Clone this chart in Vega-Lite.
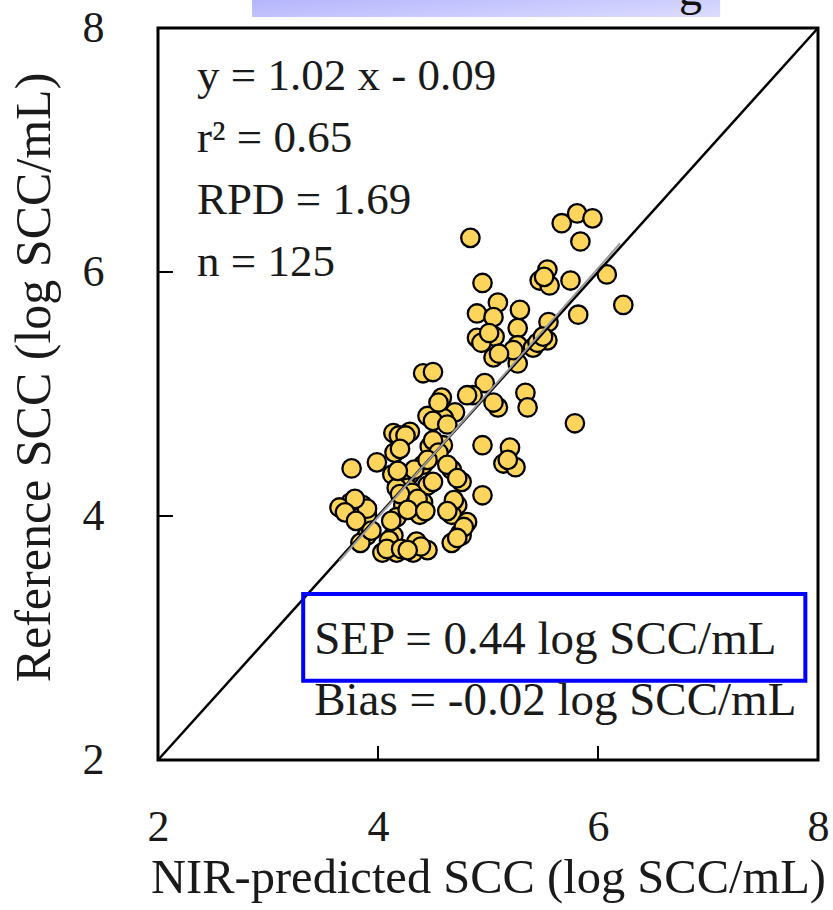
{
  "$schema": "https://vega.github.io/schema/vega-lite/v6.json",
  "autosize": "none",
  "width": 660,
  "height": 732,
  "padding": {"left": 158, "top": 28, "right": 15, "bottom": 150},
  "background": "white",
  "config": {
    "view": {"stroke": "black", "strokeWidth": 3},
    "font": "Liberation Serif",
    "axis": {
      "grid": false,
      "domain": false,
      "ticks": false,
      "labelFlush": false,
      "labelFont": "Liberation Serif",
      "labelFontSize": 44,
      "labelColor": "#1a1a1a",
      "titleFont": "Liberation Serif",
      "titleFontWeight": "normal",
      "titleColor": "#1a1a1a"
    }
  },
  "datasets": {
    "pts": [
      {"pred": 4.84, "ref": 6.28}, {"pred": 5.67, "ref": 6.40}, {"pred": 5.81, "ref": 6.48}, {"pred": 5.95, "ref": 6.44},
      {"pred": 5.84, "ref": 6.25}, {"pred": 5.54, "ref": 6.02}, {"pred": 5.47, "ref": 5.93}, {"pred": 5.56, "ref": 5.89},
      {"pred": 5.75, "ref": 5.93}, {"pred": 6.08, "ref": 5.98}, {"pred": 6.23, "ref": 5.73}, {"pred": 4.95, "ref": 5.91},
      {"pred": 5.09, "ref": 5.75}, {"pred": 5.29, "ref": 5.69}, {"pred": 4.90, "ref": 5.66}, {"pred": 5.05, "ref": 5.63},
      {"pred": 5.82, "ref": 5.65}, {"pred": 5.55, "ref": 5.59}, {"pred": 5.27, "ref": 5.54}, {"pred": 4.90, "ref": 5.46},
      {"pred": 5.06, "ref": 5.47}, {"pred": 5.27, "ref": 5.40}, {"pred": 5.41, "ref": 5.38}, {"pred": 5.54, "ref": 5.44},
      {"pred": 5.05, "ref": 5.30}, {"pred": 5.27, "ref": 5.25}, {"pred": 4.41, "ref": 5.17}, {"pred": 4.50, "ref": 5.18},
      {"pred": 4.97, "ref": 5.09}, {"pred": 4.86, "ref": 4.99}, {"pred": 5.09, "ref": 4.89}, {"pred": 5.34, "ref": 5.01},
      {"pred": 5.36, "ref": 4.89}, {"pred": 5.79, "ref": 4.76}, {"pred": 4.95, "ref": 4.58}, {"pred": 5.20, "ref": 4.56},
      {"pred": 5.14, "ref": 4.43}, {"pred": 5.25, "ref": 4.40}, {"pred": 4.95, "ref": 4.17}, {"pred": 4.58, "ref": 4.97},
      {"pred": 4.81, "ref": 4.99}, {"pred": 4.70, "ref": 4.85}, {"pred": 4.45, "ref": 4.82}, {"pred": 4.60, "ref": 4.80},
      {"pred": 4.14, "ref": 4.68}, {"pred": 4.29, "ref": 4.69}, {"pred": 4.15, "ref": 4.52}, {"pred": 3.99, "ref": 4.44},
      {"pred": 3.76, "ref": 4.39}, {"pred": 4.47, "ref": 4.57}, {"pred": 4.59, "ref": 4.58}, {"pred": 4.29, "ref": 4.34},
      {"pred": 4.13, "ref": 4.34}, {"pred": 4.67, "ref": 4.38}, {"pred": 4.76, "ref": 4.28}, {"pred": 4.45, "ref": 4.25},
      {"pred": 4.27, "ref": 4.23}, {"pred": 4.17, "ref": 4.23}, {"pred": 4.41, "ref": 4.11}, {"pred": 4.23, "ref": 4.09},
      {"pred": 4.72, "ref": 4.09}, {"pred": 4.67, "ref": 4.01}, {"pred": 4.81, "ref": 3.95}, {"pred": 4.75, "ref": 3.86},
      {"pred": 3.75, "ref": 4.11}, {"pred": 3.65, "ref": 4.07}, {"pred": 3.86, "ref": 4.09}, {"pred": 3.84, "ref": 3.99},
      {"pred": 4.17, "ref": 3.99}, {"pred": 4.38, "ref": 4.01}, {"pred": 3.90, "ref": 3.84}, {"pred": 3.84, "ref": 3.78},
      {"pred": 4.14, "ref": 3.84}, {"pred": 4.35, "ref": 3.79}, {"pred": 4.04, "ref": 3.70}, {"pred": 4.17, "ref": 3.70},
      {"pred": 4.32, "ref": 3.70}, {"pred": 4.45, "ref": 3.72}, {"pred": 4.76, "ref": 3.84}, {"pred": 4.67, "ref": 3.78},
      {"pred": 4.41, "ref": 4.42}, {"pred": 3.90, "ref": 4.01},
      {"pred": 4.55, "ref": 4.93}, {"pred": 4.50, "ref": 4.78}, {"pred": 4.63, "ref": 4.75}, {"pred": 4.50, "ref": 4.62},
      {"pred": 4.55, "ref": 4.52}, {"pred": 4.63, "ref": 4.42}, {"pred": 4.72, "ref": 4.31}, {"pred": 4.50, "ref": 4.28},
      {"pred": 4.33, "ref": 4.38}, {"pred": 4.18, "ref": 4.37}, {"pred": 4.45, "ref": 4.46}, {"pred": 4.31, "ref": 4.19},
      {"pred": 4.20, "ref": 4.18}, {"pred": 4.36, "ref": 4.14}, {"pred": 4.27, "ref": 4.05}, {"pred": 4.69, "ref": 4.13},
      {"pred": 4.63, "ref": 4.04}, {"pred": 4.78, "ref": 3.91}, {"pred": 4.12, "ref": 3.96}, {"pred": 4.43, "ref": 4.04},
      {"pred": 3.90, "ref": 4.06}, {"pred": 3.79, "ref": 4.14}, {"pred": 3.70, "ref": 4.03}, {"pred": 3.80, "ref": 3.96},
      {"pred": 3.94, "ref": 3.88}, {"pred": 4.10, "ref": 3.80}, {"pred": 4.39, "ref": 3.75}, {"pred": 4.08, "ref": 3.73},
      {"pred": 4.21, "ref": 3.73}, {"pred": 4.27, "ref": 3.72}, {"pred": 4.72, "ref": 3.82}, {"pred": 4.19, "ref": 4.66},
      {"pred": 4.25, "ref": 4.66}, {"pred": 4.20, "ref": 4.55}, {"pred": 4.94, "ref": 5.42}, {"pred": 5.01, "ref": 5.50},
      {"pred": 5.23, "ref": 5.36}, {"pred": 5.45, "ref": 5.42}, {"pred": 5.50, "ref": 5.47}, {"pred": 5.51, "ref": 5.96},
      {"pred": 5.10, "ref": 5.33}, {"pred": 5.05, "ref": 4.93}, {"pred": 5.18, "ref": 4.46}
    ],
    "identity": [{"pred": 2, "ref": 2}, {"pred": 8, "ref": 8}],
    "fit": [{"pred": 3.65, "ref": 3.633}, {"pred": 6.2, "ref": 6.234}],
    "ticks": [{"tick": 4}, {"tick": 6}]
  },
  "layer": [
    {
      "data": {"name": "pts"},
      "mark": {"type": "point", "shape": "circle", "filled": true, "fill": "#FDD55C", "fillOpacity": 1, "stroke": "black", "strokeWidth": 2.3, "strokeOpacity": 1, "size": 340, "opacity": 1},
      "encoding": {
        "x": {
          "field": "pred", "type": "quantitative",
          "scale": {"domain": [2, 8], "nice": false, "zero": false},
          "axis": {"values": [2, 4, 6, 8], "format": "d", "labelPadding": 45, "title": "NIR-predicted SCC (log SCC/mL)", "titleFontSize": 48.5, "titlePadding": 5}
        },
        "y": {
          "field": "ref", "type": "quantitative",
          "scale": {"domain": [2, 8], "nice": false, "zero": false},
          "axis": {"values": [2, 4, 6, 8], "format": "d", "labelPadding": 54, "title": "Reference SCC (log SCC/mL)", "titleFontSize": 50, "titlePadding": 23, "titleY": 349}
        }
      }
    },
    {
      "data": {"name": "identity"},
      "mark": {"type": "line", "color": "black", "strokeWidth": 2.5},
      "encoding": {
        "x": {"field": "pred", "type": "quantitative"},
        "y": {"field": "ref", "type": "quantitative"}
      }
    },
    {
      "data": {"name": "fit"},
      "mark": {"type": "line", "color": "#9a9a9a", "strokeWidth": 2},
      "encoding": {
        "x": {"field": "pred", "type": "quantitative"},
        "y": {"field": "ref", "type": "quantitative"}
      }
    },
    {
      "data": {"name": "ticks"},
      "mark": {"type": "rule", "color": "black", "strokeWidth": 2},
      "encoding": {
        "x": {"field": "tick", "type": "quantitative"},
        "y": {"datum": 2, "type": "quantitative"},
        "y2": {"datum": 2.115}
      }
    },
    {
      "data": {"name": "ticks"},
      "mark": {"type": "rule", "color": "black", "strokeWidth": 2},
      "encoding": {
        "y": {"field": "tick", "type": "quantitative"},
        "x": {"datum": 2, "type": "quantitative"},
        "x2": {"datum": 2.136}
      }
    },
    {
      "data": {"values": [{"a": 1}]},
      "mark": {
        "type": "rect",
        "fill": {"gradient": "linear", "x1": 0, "y1": 0, "x2": 1, "y2": 1,
          "stops": [{"offset": 0, "color": "#a6a6fc"}, {"offset": 1, "color": "#dcdcff"}]}
      },
      "encoding": {
        "x": {"datum": 2.855, "type": "quantitative"},
        "x2": {"datum": 7.11},
        "y": {"datum": 8.4, "type": "quantitative"},
        "y2": {"datum": 8.09}
      }
    },
    {
      "data": {"values": [{"a": 1}]},
      "mark": {"type": "text", "text": "g", "font": "Liberation Serif", "fontSize": 46, "align": "center", "baseline": "alphabetic", "color": "#111"},
      "encoding": {
        "x": {"datum": 6.84, "type": "quantitative"},
        "y": {"datum": 8.185, "type": "quantitative"}
      }
    },
    {
      "data": {"values": [{"a": 1}]},
      "mark": {"type": "text", "text": ["y = 1.02 x - 0.09", "r² = 0.65", "RPD = 1.69", "n = 125"], "lineHeight": 62, "font": "Liberation Serif", "fontSize": 45, "align": "left", "baseline": "alphabetic", "color": "#1a1a1a"},
      "encoding": {
        "x": {"datum": 2.355, "type": "quantitative"},
        "y": {"datum": 7.492, "type": "quantitative"}
      }
    },
    {
      "data": {"values": [{"a": 1}]},
      "mark": {"type": "rect", "fill": null, "stroke": "#0000ff", "strokeWidth": 4},
      "encoding": {
        "x": {"datum": 3.32, "type": "quantitative"},
        "x2": {"datum": 7.885},
        "y": {"datum": 3.36, "type": "quantitative"},
        "y2": {"datum": 2.65}
      }
    },
    {
      "data": {"values": [{"a": 1}]},
      "mark": {"type": "text", "text": ["SEP = 0.44 log SCC/mL", "Bias = -0.02 log SCC/mL"], "lineHeight": 61, "font": "Liberation Serif", "fontSize": 47, "align": "left", "baseline": "alphabetic", "color": "#1a1a1a"},
      "encoding": {
        "x": {"datum": 3.42, "type": "quantitative"},
        "y": {"datum": 2.87, "type": "quantitative"}
      }
    }
  ]
}
